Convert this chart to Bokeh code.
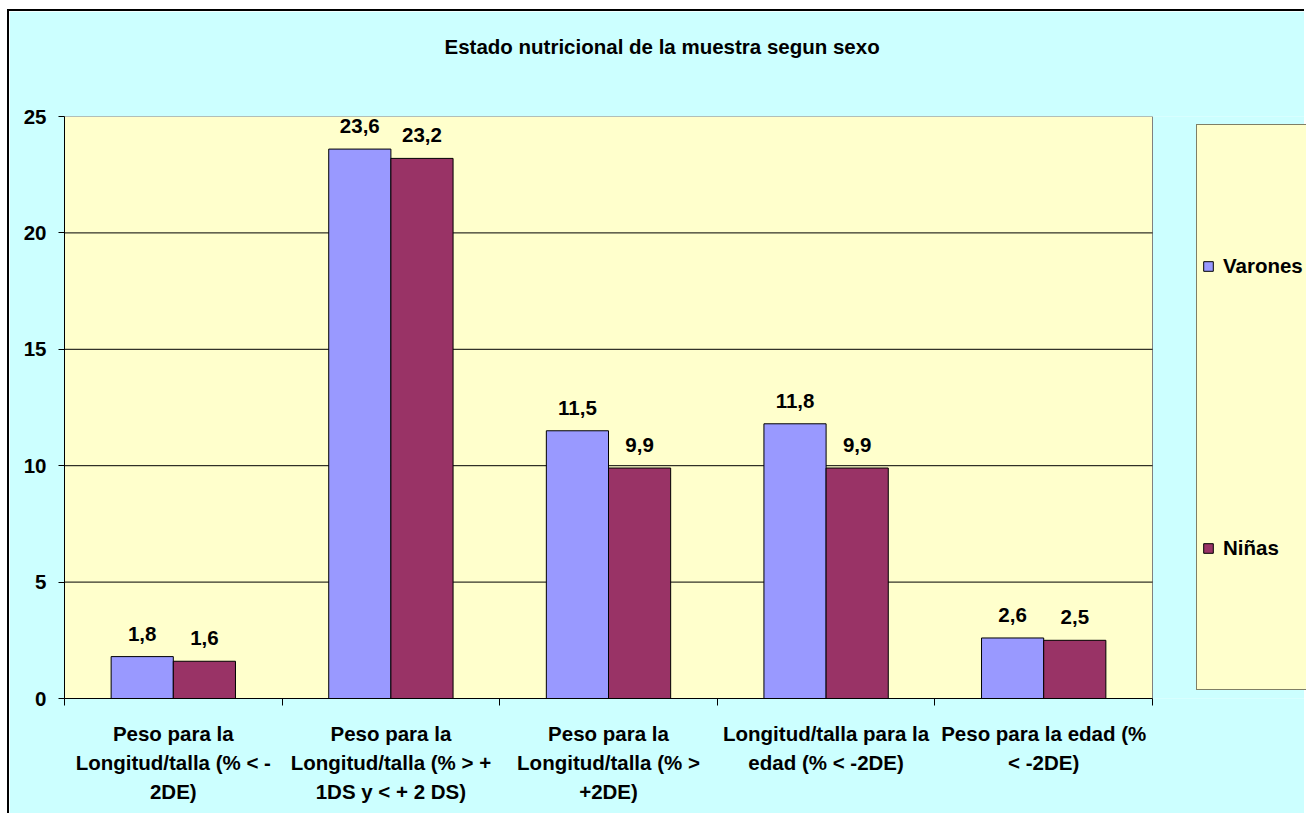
from bokeh.plotting import figure
from bokeh.models import (Range1d, LinearAxis, FixedTicker,
                          Legend, LegendItem, ColumnDataSource)
from bokeh.core.properties import value
from bokeh.embed import file_html
from bokeh.resources import INLINE

title_text = "Estado nutricional de la muestra segun sexo"
categories = [
    "Peso para la\nLongitud/talla (% < -\n2DE)",
    "Peso para la\nLongitud/talla (% > +\n1DS y < + 2 DS)",
    "Peso para la\nLongitud/talla (% >\n+2DE)",
    "Longitud/talla para la\nedad (% < -2DE)",
    "Peso para la edad (%\n< -2DE)",
]
series_names = ["Varones", "Niñas"]
varones = [1.8, 23.6, 11.5, 11.8, 2.6]
ninas = [1.6, 23.2, 9.9, 9.9, 2.5]
y_ticks = [0, 5, 10, 15, 20, 25]

FONT = "Liberation Sans"
FS = "20.5px"
C_V = "#9999FF"
C_N = "#993366"
PLOT_BG = "#FFFFCC"
CHART_BG = "#CCFFFF"

def fmt(v):
    return f"{v:.1f}".replace(".", ",")

n = len(categories)
centers = [i + 0.5 for i in range(n)]
bw = 2 / 7
y_top = y_ticks[-1]
# the bar area takes this share of the frame; the rest on the right holds the legend
PLOT_FRAC = 1088 / 1242

src = ColumnDataSource(dict(
    xv=[c - bw / 2 for c in centers], xn=[c + bw / 2 for c in centers],
    varones=varones, ninas=ninas,
    v_lab=[fmt(v) for v in varones], n_lab=[fmt(v) for v in ninas],
))

p = figure(x_range=Range1d(0, n / PLOT_FRAC), y_range=Range1d(0, y_top),
           width=1297, height=804, output_backend="svg", toolbar_location=None,
           x_axis_location=None, min_border_left=55, min_border_right=0,
           min_border_top=105, min_border_bottom=117)
p.styles = {"margin-left": "7px", "margin-top": "9px",
            "border-left": "2px solid black", "border-top": "2px solid black"}
p.background_fill_color = CHART_BG
p.border_fill_color = CHART_BG
p.outline_line_color = None

# two blank lines under the title lift it away from the plot area
p.title.text = title_text + "\n \n "
p.title.align = "left"
p.title.offset = 380
p.title.standoff = 26
p.title.text_font = FONT
p.title.text_font_size = FS
p.title.text_font_style = "bold"
p.title.text_color = "black"

p.xgrid.visible = False
p.ygrid.visible = False

# plot area background and horizontal grid lines
p.quad(left=[0], right=[n], bottom=[0], top=[y_top], fill_color=PLOT_BG,
       line_color="#808080", line_width=1)
grid_vals = y_ticks[1:-1]
p.segment(x0=[0] * len(grid_vals), x1=[n] * len(grid_vals), y0=grid_vals, y1=grid_vals,
          line_color="black", line_width=1)

ya = p.yaxis[0]
ya.ticker = FixedTicker(ticks=y_ticks)
ya.axis_line_color = "black"
ya.major_tick_out = 6
ya.major_tick_in = 0
ya.major_tick_line_color = "black"
ya.minor_tick_line_color = None
ya.major_label_standoff = 12
ya.major_label_text_font = FONT
ya.major_label_text_font_size = FS
ya.major_label_text_font_style = "bold"
ya.major_label_text_color = "black"

r1 = p.vbar(x="xv", top="varones", width=bw, source=src,
            fill_color=C_V, line_color="black", line_width=1)
r2 = p.vbar(x="xn", top="ninas", width=bw, source=src,
            fill_color=C_N, line_color="black", line_width=1)

for xc, col, lab in (("xv", "varones", "v_lab"), ("xn", "ninas", "n_lab")):
    p.text(x=xc, y=col, text=lab, source=src,
           text_align="center", text_baseline="alphabetic", y_offset=-23,
           text_font=value(FONT), text_font_size=FS, text_font_style="bold",
           text_color="black")

# boundary ticks
tick_axis = LinearAxis(ticker=FixedTicker(ticks=list(range(n + 1))), bounds=(0, n),
                       major_label_overrides={i: "" for i in range(n + 1)},
                       major_tick_out=7, major_tick_in=0, minor_tick_line_color=None,
                       axis_line_color="black", major_tick_line_color="black",
                       major_label_standoff=0, major_label_text_font_size="1px")
p.add_layout(tick_axis, "below")
# category labels
cat_axis = LinearAxis(ticker=FixedTicker(ticks=centers),
                      major_label_overrides={c: lab for c, lab in zip(centers, categories)},
                      axis_line_color=None, major_tick_line_color=None,
                      minor_tick_line_color=None, major_label_standoff=10,
                      major_label_text_font=FONT, major_label_text_font_size=FS,
                      major_label_text_font_style="bold", major_label_text_color="black",
                      major_label_text_line_height=1.28)
p.add_layout(cat_axis, "below")

# legend: uniform grid of rows, series on rows 4 and 13, the rest empty spacers
dummy = p.rect(x=[], y=[], width=1, height=1, fill_alpha=0, line_alpha=0)
rows = []
for k in range(18):
    if k == 4:
        rows.append(LegendItem(label=series_names[0], renderers=[r1]))
    elif k == 13:
        rows.append(LegendItem(label=series_names[1], renderers=[r2]))
    else:
        rows.append(LegendItem(label=" " * (k + 1), renderers=[dummy]))
leg = Legend(items=rows, location=(1132, 8), ncols=1, glyph_width=12, glyph_height=12,
             label_standoff=9, spacing=10, padding=5, margin=0, label_height=21,
             label_width=100,
             label_text_font=FONT, label_text_font_size=FS, label_text_font_style="bold",
             label_text_color="black", border_line_color="black", border_line_width=1,
             background_fill_color=PLOT_BG, background_fill_alpha=1)
p.add_layout(leg)

open("out.html", "w").write(file_html(p, INLINE))
